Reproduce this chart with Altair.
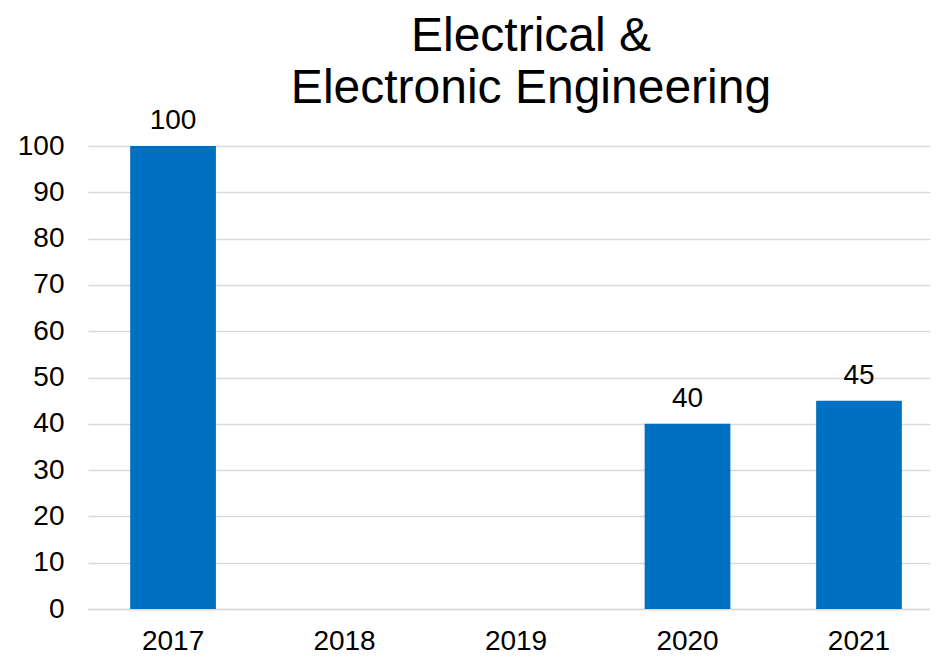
import altair as alt
import pandas as pd

years = ["2017", "2018", "2019", "2020", "2021"]
values = [100, None, None, 40, 45]
y_ticks = [0, 10, 20, 30, 40, 50, 60, 70, 80, 90, 100]
title_lines = ["Electrical &", "Electronic Engineering"]

df = pd.DataFrame({"year": years, "value": values})

FONT = "Liberation Sans"

x = alt.X("year:N", sort=years,
          scale=alt.Scale(domain=years, paddingInner=0.5, paddingOuter=0.205, align=0.6),
          axis=alt.Axis(title=None, labelAngle=0, labelFontSize=28, labelFont=FONT, labelColor="#000000",
                        ticks=False, domainColor="#d9d9d9", domainWidth=1.5, labelPadding=18, grid=False))
y = alt.Y("value:Q", scale=alt.Scale(domain=[0, 100], nice=False),
          axis=alt.Axis(title=None, values=y_ticks, labelFontSize=28, labelFont=FONT, labelColor="#000000",
                        ticks=False, domain=False, gridColor="#d9d9d9", gridWidth=1.5, labelPadding=24))

base = alt.Chart(df)
bars = base.mark_bar(color="#0070C0").encode(x=x, y=y)
labels = base.mark_text(font=FONT, fontSize=28, color="#000000", baseline="alphabetic", dy=-17).encode(
    x=x, y=y, text=alt.Text("value:Q"))

chart = (bars + labels).properties(
    width=842, height=463,
    autosize=alt.AutoSizeParams(type="none"),
    padding={"left": 80, "top": 138, "right": 0, "bottom": 50},
    title=alt.TitleParams(text=title_lines, font=FONT, fontSize=48, fontWeight="normal", color="#000000",
                          lineHeight=52, anchor="middle", frame="group", offset=-6, dx=22),
).configure_view(stroke=None)

chart.save("out.html", embed_options={"renderer": "svg", "actions": False})
